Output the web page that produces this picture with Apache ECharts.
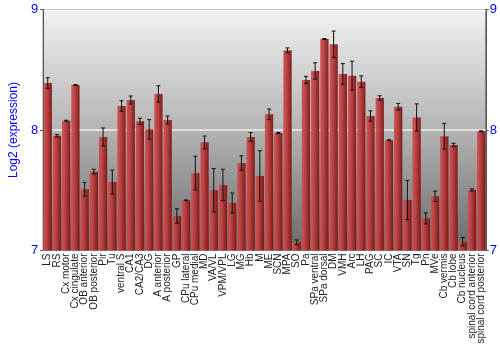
<!DOCTYPE html>
<html><head><meta charset="utf-8">
<script src="https://cdn.jsdelivr.net/npm/echarts@6/dist/echarts.min.js"></script>
<style>html,body{margin:0;padding:0;background:#fff}#c{width:500px;height:350px}</style>
</head><body><div id="c"></div>
<script>
var categories = ["LS","RS","Cx motor","Cx cingulate","OB anterior","OB posterior","Pir","Tu","ventral S","CA1","CA2/CA3","DG","A anterior","A posterior","GP","CPu lateral","CPu medial","MD","VA/VL","VPM/VPL","LG","MG","Hb","M","ME","SCN","MPA","SO","Pa","SPa ventral","SPa dorsal","DM","VMH","Arc","LH","PAG","SC","IC","VTA","SN","Tg","Pn","MVe","Cb vermis","Cb lobe","Cb nucleus","spinal cord anterior","spinal cord posterior"];
var values = [8.39,7.953,8.077,8.373,7.508,7.654,7.942,7.568,8.199,8.249,8.072,8.006,8.299,8.083,7.286,7.417,7.643,7.898,7.500,7.544,7.394,7.726,7.942,7.618,8.130,7.975,8.661,7.068,8.415,8.490,8.755,8.711,8.465,8.451,8.401,8.116,8.266,7.915,8.193,7.419,8.104,7.267,7.450,7.948,7.876,7.073,7.502,7.989];
var errors = [0.044,0.01,0.004,0.004,0.057,0.02,0.075,0.10,0.044,0.033,0.025,0.08,0.068,0.033,0.06,0.003,0.14,0.052,0.18,0.13,0.083,0.06,0.037,0.21,0.044,0.004,0.02,0.02,0.03,0.068,0.004,0.11,0.086,0.12,0.048,0.043,0.018,0.004,0.028,0.163,0.113,0.046,0.043,0.107,0.014,0.035,0.01,0.004];
var yTicks = [7,8,9];

var chart = echarts.init(document.getElementById('c'));
var errData = values.map(function(v,i){return [i, v - errors[i], v + errors[i]];});
chart.setOption({
  animation:false,
  grid:{left:27,right:14,top:9.5,bottom:99.5,show:true,borderColor:'#666',borderWidth:1,
    backgroundColor:{type:'linear',x:0,y:0,x2:0,y2:1,colorStops:[{offset:0,color:'#f2f2f2'},{offset:0.5,color:'#b4b4b4'},{offset:1,color:'#6a6a6a'}]}},
  xAxis:{type:'category',data:categories,
    axisLine:{show:true,lineStyle:{color:'#888'}},axisTick:{show:false},
    axisLabel:{rotate:90,interval:0,fontSize:10,color:'#222',fontFamily:'Liberation Sans',margin:3}},
  yAxis:[{type:'value',min:7,max:9,interval:1,name:'Log2 (expression)',nameLocation:'middle',nameGap:14,
    nameTextStyle:{color:'#0000ff',fontSize:12,fontFamily:'Liberation Sans'},
    axisLine:{show:true,lineStyle:{color:'#555'}},axisTick:{show:true,length:3,lineStyle:{color:'#555'}},
    axisLabel:{color:'#0000ff',fontSize:13,fontFamily:'Liberation Sans',margin:5},
    splitLine:{show:true,lineStyle:{color:'#ffffff',width:1.5,opacity:0.8}}},
   {type:'value',min:7,max:9,interval:1,position:'right',
    axisLine:{show:true,lineStyle:{color:'#555'}},axisTick:{show:true,length:3,lineStyle:{color:'#555'}},
    axisLabel:{color:'#0000ff',fontSize:13,fontFamily:'Liberation Sans',margin:4},
    splitLine:{show:false}}],
  series:[{type:'bar',data:values,barCategoryGap:'10%',
    itemStyle:{color:{type:'linear',x:0,y:0,x2:1,y2:0,colorStops:[{offset:0,color:'#cf5252'},{offset:0.45,color:'#b83a3a'},{offset:1,color:'#7a1414'}]},opacity:0.95}},
   {type:'custom',data:errData,z:5,
    renderItem:function(params,api){
      var x=api.value(0), lo=api.coord([x,api.value(1)]), hi=api.coord([x,api.value(2)]);
      var cw=2;
      var st={stroke:'#111',lineWidth:1};
      return {type:'group',children:[
        {type:'line',shape:{x1:lo[0],y1:lo[1],x2:hi[0],y2:hi[1]},style:st},
        {type:'line',shape:{x1:lo[0]-cw,y1:lo[1],x2:lo[0]+cw,y2:lo[1]},style:st},
        {type:'line',shape:{x1:hi[0]-cw,y1:hi[1],x2:hi[0]+cw,y2:hi[1]},style:st}]};
    }}]
});
</script></body></html>
